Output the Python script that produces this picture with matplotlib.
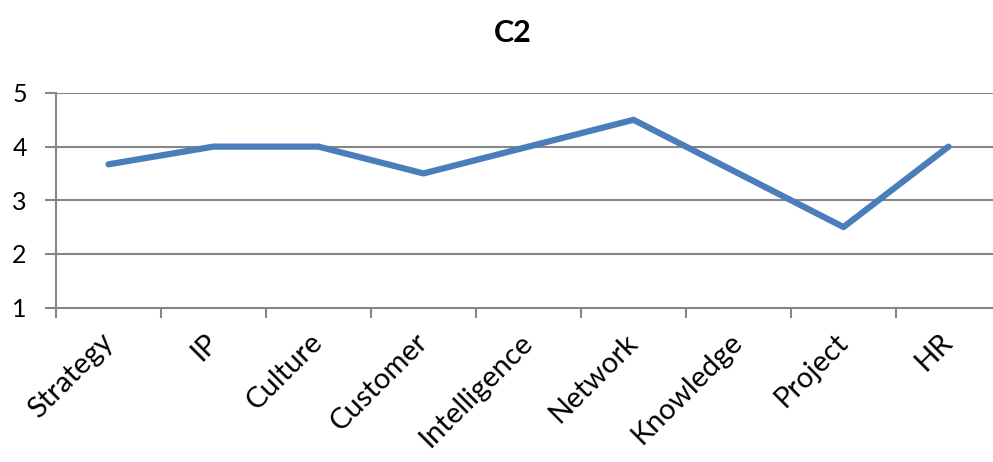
import matplotlib
matplotlib.use("Agg")
import matplotlib.pyplot as plt

plt.rcParams['font.family'] = ['Lato', 'DejaVu Sans']

categories = ['Strategy', 'IP', 'Culture', 'Customer', 'Intelligence',
              'Network', 'Knowledge', 'Project', 'HR']
scores = [3.67, 4, 4, 3.5, 4, 4.5, 3.5, 2.5, 4]

W, H = 993, 462
fig = plt.figure(figsize=(W / 100, H / 100), dpi=100)
ax = fig.add_axes([56 / W, (H - 307.5) / H, 945 / W, 214.5 / H])

grey = '#868686'
x = list(range(len(categories)))
ax.plot(x, scores, color='#4A7EBB', lw=4.5, solid_capstyle='round',
        solid_joinstyle='round', zorder=3)

ax.set_xlim(-0.5, len(categories) - 0.5)
ax.set_ylim(1, 5)
ax.set_yticks([1, 2, 3, 4, 5])
ax.set_yticklabels(['1', '2', '3', '4', '5'])
ax.set_xticks([i - 0.5 for i in range(len(categories) + 1)])
ax.set_xticklabels([])
ax.set_xticks(x, minor=True)
ax.set_xticklabels(categories, minor=True, rotation=45, ha='right',
                   va='center', rotation_mode='anchor')
ax.tick_params(axis='x', which='minor', length=0, pad=22, labelsize=21)
ax.tick_params(axis='x', which='major', length=7, width=1.5, color=grey)
ax.tick_params(axis='y', length=8, width=1.5, color=grey, pad=13, labelsize=18)

for v in [2, 3, 4, 5]:
    ax.axhline(v, color=grey, lw=1.5, zorder=1)

for s in ['top', 'right']:
    ax.spines[s].set_visible(False)
for s in ['left', 'bottom']:
    ax.spines[s].set_color(grey)
    ax.spines[s].set_linewidth(1.5)

fig.text(513 / W, 1 - 33 / H, 'C2', ha='center', va='center',
         fontsize=22, fontweight='bold')

fig.savefig('out.png', dpi=100)
